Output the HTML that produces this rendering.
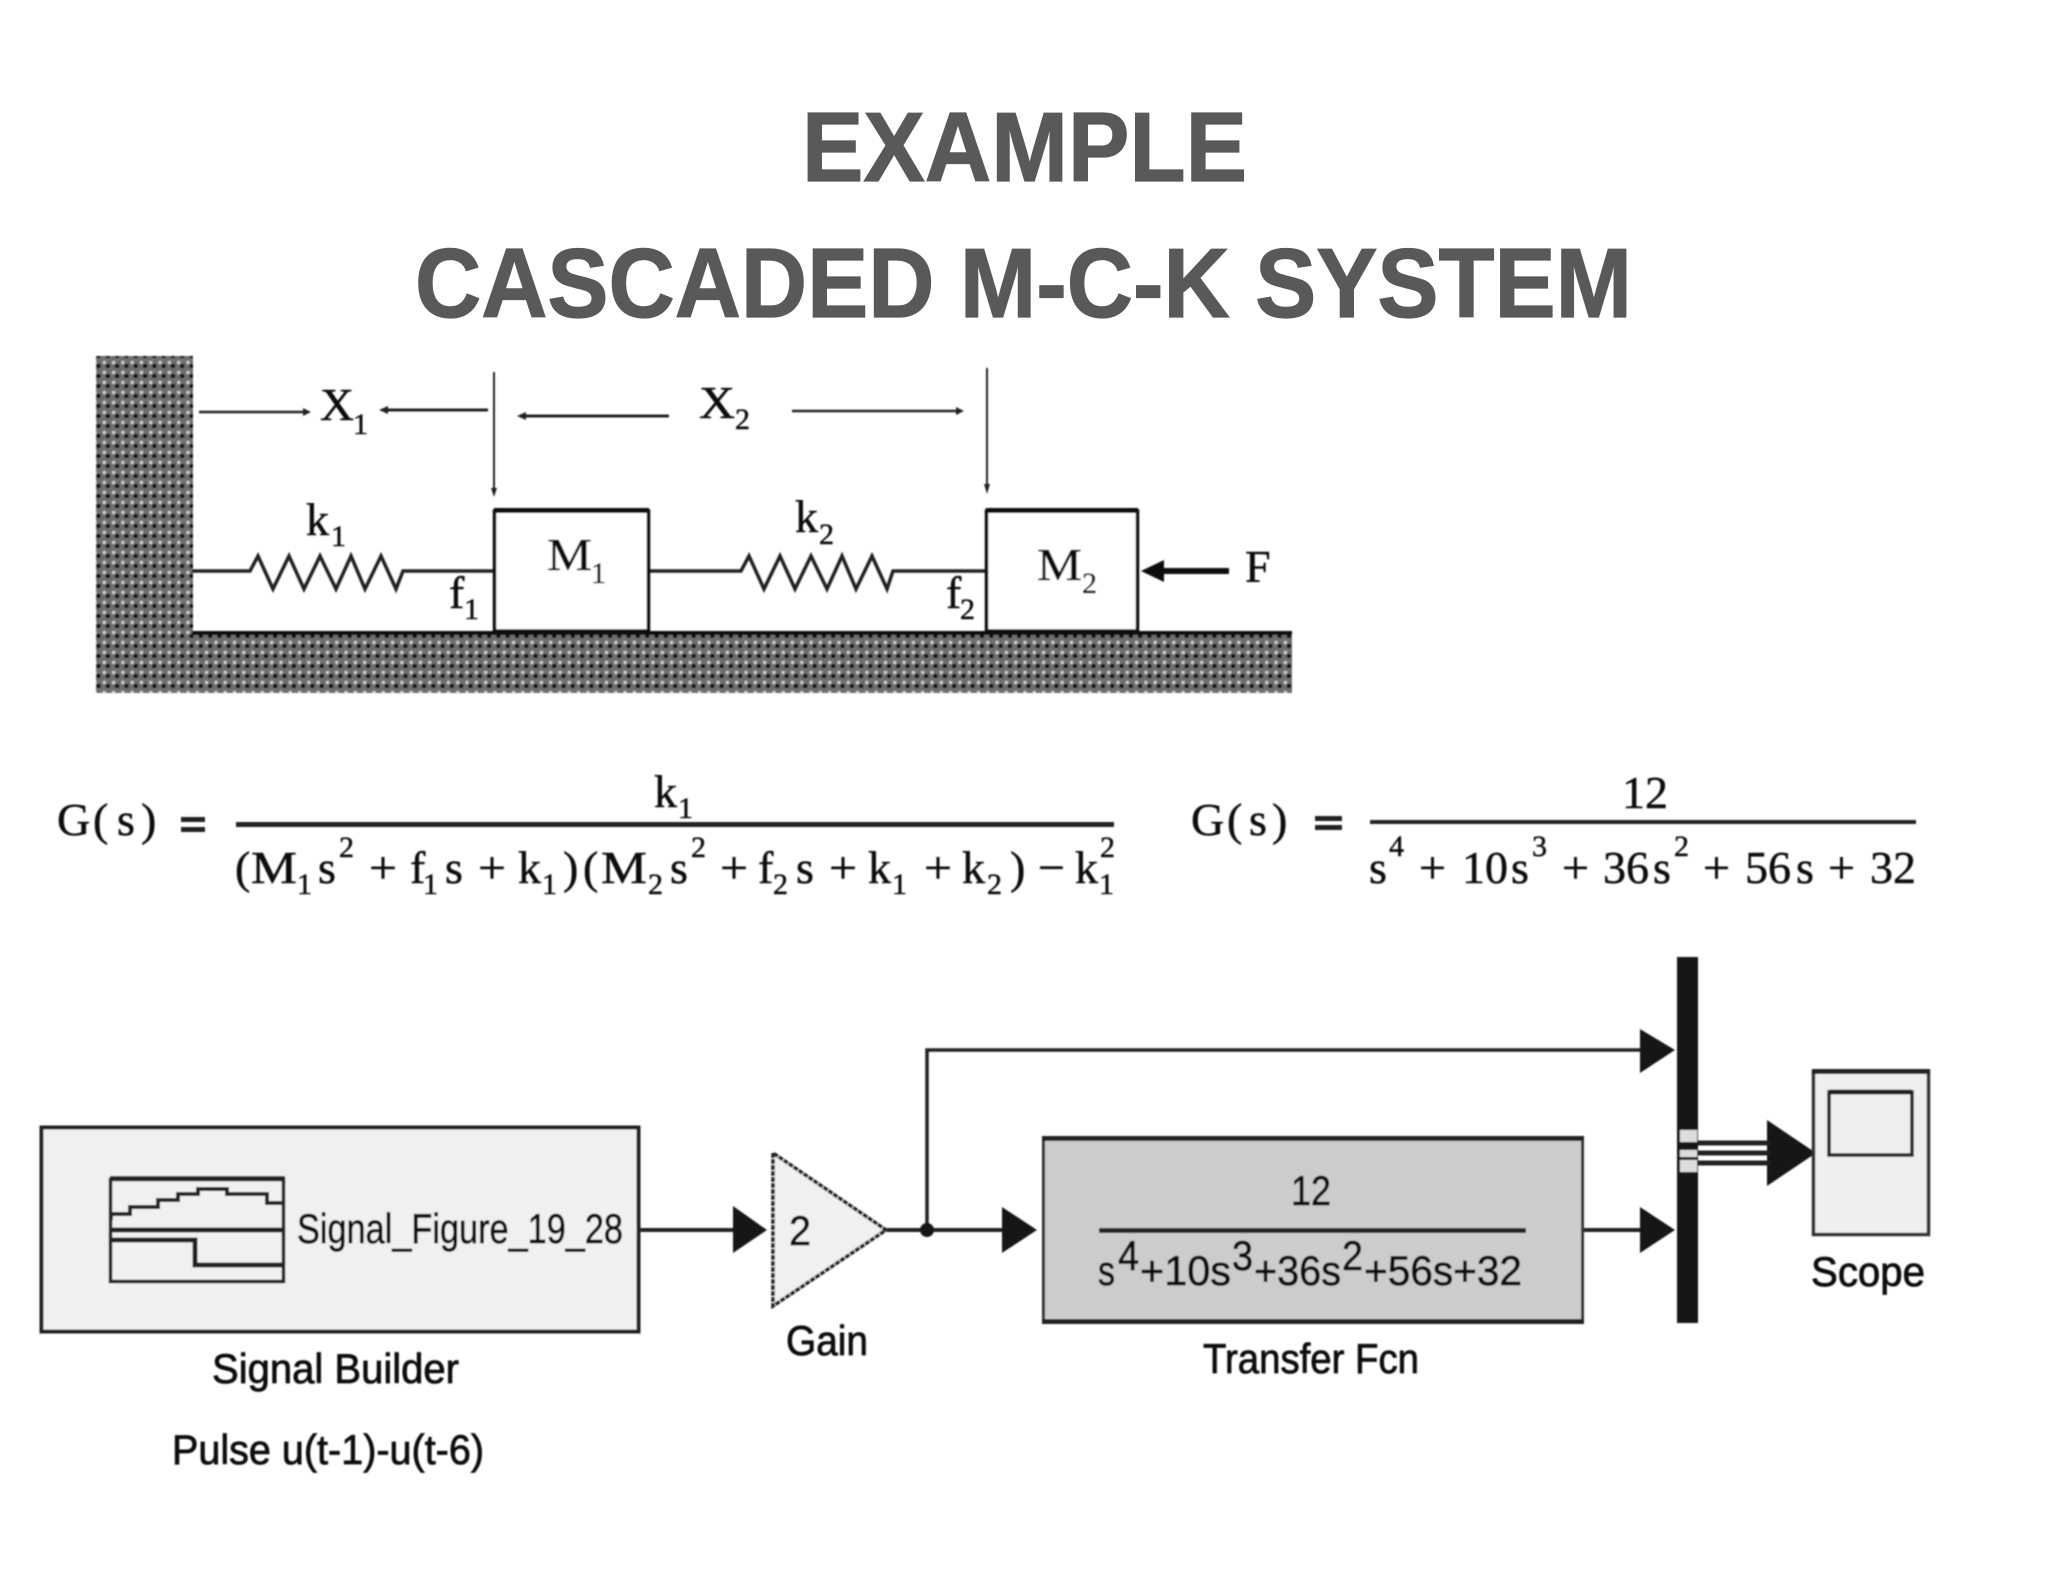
<!DOCTYPE html>
<html><head><meta charset="utf-8"><style>
html,body{margin:0;padding:0;background:#fff;}
svg{display:block;}
.t{font-family:"Liberation Serif",serif;fill:#111;stroke:#111;stroke-width:.5px;font-size:46px;}
.u{font-family:"Liberation Serif",serif;fill:#111;stroke:#111;stroke-width:.5px;font-size:30px;}
.h{font-family:"Liberation Sans",sans-serif;font-weight:700;fill:#595959;stroke:#595959;stroke-width:1.2px;font-size:98px;}
.a{font-family:"Liberation Sans",sans-serif;fill:#111;stroke:#111;stroke-width:.8px;font-size:42px;}
</style></head><body>
<svg xmlns="http://www.w3.org/2000/svg" width="2048" height="1582" viewBox="0 0 2048 1582">
<defs>
<pattern id="hatch" width="9.3" height="10" patternUnits="userSpaceOnUse">
<rect width="9.3" height="10" fill="#6e6e6e"/>
<rect x="3.5" y="4" width="4" height="4" fill="#0c0c0c"/>
<rect x="0.5" y="1" width="3" height="3" fill="#d0d0d0"/>
</pattern>
<filter id="b" x="-2%" y="-2%" width="104%" height="104%"><feGaussianBlur stdDeviation="0.7"/></filter>
</defs>
<rect width="2048" height="1582" fill="#fff"/>

<text class="h" x="802" y="181" textLength="445" lengthAdjust="spacingAndGlyphs">EXAMPLE</text>
<text class="h" x="415" y="317" textLength="1217" lengthAdjust="spacingAndGlyphs">CASCADED M-C-K SYSTEM</text>

<g filter="url(#b)">
<!-- mechanical -->
<rect x="96" y="356" width="97" height="337" fill="url(#hatch)"/>
<rect x="96" y="634" width="1196" height="59" fill="url(#hatch)"/>
<rect x="192" y="631" width="1100" height="4" fill="#111"/>
<g fill="none" stroke="#222" stroke-width="3.5">
<path d="M192 571H250L258 556L273 589L289 556L304 589L320 556L336 589L351 556L365 589L381 556L396 589L403 571H494"/>
<path d="M649 571H741L749 556L764 589L780 556L795 589L811 556L827 589L842 556L856 589L872 556L887 589L893 571H986"/>
</g>
<rect x="494.5" y="511" width="154" height="120" fill="#fff" stroke="#111" stroke-width="3.5"/>
<rect x="494" y="508" width="155" height="5" fill="#111"/>
<rect x="986.5" y="511" width="151" height="120" fill="#fff" stroke="#111" stroke-width="3.5"/>
<rect x="986" y="508" width="152" height="5" fill="#111"/>
<g stroke="#222" fill="none">
<path d="M494 372V490" stroke-width="2"/><path d="M987 368V487" stroke-width="2"/>
<path d="M199 412H305" stroke-width="2.5"/><path d="M385 410H488" stroke-width="3"/>
<path d="M524 416H669" stroke-width="3"/><path d="M792 411H958" stroke-width="2.5"/>
<path d="M1160 571H1229" stroke-width="6" stroke="#111"/>
</g>
<g fill="#222">
<path d="M491 488H497L494 497Z"/><path d="M984 484H990L987 494Z"/>
<path d="M303 408L311 412L303 416Z"/><path d="M388 406L379 410L388 414Z"/>
<path d="M526 412L517 416L526 420Z"/><path d="M956 407L964 411L956 415Z"/>
<path d="M1141 571L1164 560V582Z" fill="#111"/>
</g>
<text class="t" x="320" y="420" font-size="50" textLength="34" lengthAdjust="spacingAndGlyphs">X</text><text class="u" x="353" y="434">1</text>
<text class="t" x="699" y="418" textLength="36" lengthAdjust="spacingAndGlyphs">X</text><text class="u" x="735" y="429">2</text>
<text class="t" x="306" y="535">k</text><text class="u" x="331" y="546">1</text>
<text class="t" x="795" y="532">k</text><text class="u" x="819" y="544">2</text>
<text class="t" x="547" y="570" textLength="45" lengthAdjust="spacingAndGlyphs">M</text><text class="u" x="591" y="583">1</text>
<text class="t" x="1037" y="580" textLength="45" lengthAdjust="spacingAndGlyphs">M</text><text class="u" x="1082" y="593">2</text>
<text class="t" x="449" y="608">f</text><text class="u" x="464" y="619">1</text>
<text class="t" x="946" y="608">f</text><text class="u" x="960" y="619">2</text>
<text class="t" x="1245" y="582">F</text>

<!-- equation 1 -->
<text class="t" x="57" y="835">G</text><text class="t" x="93" y="835">(</text><text class="t" x="117" y="835">s</text><text class="t" x="141" y="835">)</text>
<rect x="181" y="817" width="24" height="5" fill="#222"/><rect x="181" y="827" width="24" height="5" fill="#222"/>
<rect x="236" y="822" width="878" height="5" fill="#222"/>
<text class="t" x="654" y="807">k</text><text class="u" x="678" y="818">1</text>
<g>
<text class="t" x="235" y="883">(</text><text class="t" x="251" y="883" textLength="46" lengthAdjust="spacingAndGlyphs">M</text><text class="u" x="297" y="894">1</text><text class="t" x="318" y="883">s</text><text class="u" x="339" y="857">2</text><text class="t" x="369" y="883" textLength="28" lengthAdjust="spacingAndGlyphs">+</text><text class="t" x="410" y="883">f</text><text class="u" x="423" y="894">1</text><text class="t" x="445" y="883">s</text><text class="t" x="478" y="883" textLength="28" lengthAdjust="spacingAndGlyphs">+</text><text class="t" x="518" y="883">k</text><text class="u" x="542" y="894">1</text><text class="t" x="563" y="883">)</text><text class="t" x="583" y="883">(</text><text class="t" x="601" y="883" textLength="46" lengthAdjust="spacingAndGlyphs">M</text><text class="u" x="648" y="894">2</text><text class="t" x="670" y="883">s</text><text class="u" x="691" y="857">2</text><text class="t" x="720" y="883" textLength="28" lengthAdjust="spacingAndGlyphs">+</text><text class="t" x="758" y="883">f</text><text class="u" x="773" y="894">2</text><text class="t" x="796" y="883">s</text><text class="t" x="829" y="883" textLength="28" lengthAdjust="spacingAndGlyphs">+</text><text class="t" x="868" y="883">k</text><text class="u" x="892" y="894">1</text><text class="t" x="924" y="883" textLength="28" lengthAdjust="spacingAndGlyphs">+</text><text class="t" x="962" y="883">k</text><text class="u" x="987" y="894">2</text><text class="t" x="1010" y="883">)</text><text class="t" x="1038" y="883" textLength="27" lengthAdjust="spacingAndGlyphs">−</text><text class="t" x="1075" y="883">k</text><text class="u" x="1099" y="894">1</text><text class="u" x="1100" y="857">2</text>
</g>

<!-- equation 2 -->
<text class="t" x="1191" y="835">G</text><text class="t" x="1227" y="835">(</text><text class="t" x="1249" y="835">s</text><text class="t" x="1272" y="835">)</text>
<rect x="1315" y="816" width="27" height="5" fill="#222"/><rect x="1315" y="825" width="27" height="5" fill="#222"/>
<rect x="1370" y="820" width="546" height="4" fill="#222"/>
<text class="t" x="1622" y="808">12</text>
<g>
<text class="t" x="1369" y="883">s</text><text class="u" x="1389" y="856">4</text><text class="t" x="1419" y="883" textLength="27" lengthAdjust="spacingAndGlyphs">+</text><text class="t" x="1462" y="883">10</text><text class="t" x="1511" y="883">s</text><text class="u" x="1532" y="856">3</text><text class="t" x="1562" y="883" textLength="27" lengthAdjust="spacingAndGlyphs">+</text><text class="t" x="1603" y="883">36</text><text class="t" x="1653" y="883">s</text><text class="u" x="1674" y="856">2</text><text class="t" x="1703" y="883" textLength="27" lengthAdjust="spacingAndGlyphs">+</text><text class="t" x="1745" y="883">56</text><text class="t" x="1796" y="883">s</text><text class="t" x="1828" y="883" textLength="27" lengthAdjust="spacingAndGlyphs">+</text><text class="t" x="1870" y="883">32</text>
</g>

<!-- simulink -->
<rect x="41.5" y="1127.5" width="597" height="204" fill="#f0f0f0" stroke="#222" stroke-width="4"/>
<rect x="110.5" y="1179.5" width="173" height="102" fill="#f0f0f0" stroke="#222" stroke-width="3.5"/>
<path d="M110 1176H285V1181H110Z" fill="#222"/>
<g fill="none" stroke="#222" stroke-width="4">
<path d="M111 1220V1214H130V1207H158V1200H178V1194H198V1189H227V1194H267V1203H284"/>
<path d="M110 1230H284" stroke-width="5"/>
<path d="M110 1240H195V1265H284" stroke-width="5"/>
<path d="M639 1230H735"/>
<path d="M887 1230H1005"/>
<path d="M1583 1230H1645"/>
<path d="M1645 1050H927V1230" stroke-width="3.5"/>
</g>
<text class="a" x="297" y="1243" textLength="326" lengthAdjust="spacingAndGlyphs">Signal_Figure_19_28</text>
<path d="M773 1153V1306L886 1230Z" fill="#f0f0f0" stroke="#222" stroke-width="3.5" stroke-dasharray="5 1"/>
<text class="a" x="789" y="1245" textLength="22" lengthAdjust="spacingAndGlyphs">2</text>
<text class="a" x="786" y="1355" textLength="82" lengthAdjust="spacingAndGlyphs">Gain</text>
<text class="a" x="212" y="1383" textLength="247" lengthAdjust="spacingAndGlyphs">Signal Builder</text>
<text class="a" x="172" y="1464" textLength="312" lengthAdjust="spacingAndGlyphs">Pulse u(t-1)-u(t-6)</text>
<g fill="#151515">
<path d="M733 1206L767 1230L733 1253Z"/>
<path d="M1002 1207L1037 1230L1002 1253Z"/>
<path d="M1640 1207L1675 1230L1640 1253Z"/>
<path d="M1640 1029L1675 1050L1640 1073Z"/>
<circle cx="927" cy="1230" r="7"/>
<rect x="1677" y="957" width="21" height="366"/>
<path d="M1767 1120L1816 1153L1767 1186Z"/>
</g>
<rect x="1043.5" y="1138.5" width="539" height="184" fill="#ccc" stroke="#333" stroke-width="3"/>
<rect x="1042" y="1136" width="542" height="5" fill="#222"/><rect x="1042" y="1319" width="542" height="5" fill="#222"/>
<text class="a" x="1291" y="1205" textLength="40" lengthAdjust="spacingAndGlyphs">12</text>
<rect x="1099" y="1228" width="427" height="5" fill="#222"/>
<text class="a" x="1098" y="1285" textLength="17" lengthAdjust="spacingAndGlyphs">s</text>
<text class="a" x="1118" y="1270" textLength="21" lengthAdjust="spacingAndGlyphs">4</text>
<text class="a" x="1140" y="1285" textLength="91" lengthAdjust="spacingAndGlyphs">+10s</text>
<text class="a" x="1232" y="1270" textLength="21" lengthAdjust="spacingAndGlyphs">3</text>
<text class="a" x="1254" y="1285" textLength="87" lengthAdjust="spacingAndGlyphs">+36s</text>
<text class="a" x="1342" y="1270" textLength="21" lengthAdjust="spacingAndGlyphs">2</text>
<text class="a" x="1364" y="1285" textLength="158" lengthAdjust="spacingAndGlyphs">+56s+32</text>
<text class="a" x="1203" y="1373" textLength="216" lengthAdjust="spacingAndGlyphs">Transfer Fcn</text>
<g fill="#ddd"><rect x="1680" y="1130" width="17" height="12"/><rect x="1680" y="1150" width="17" height="7"/><rect x="1680" y="1160" width="17" height="12"/></g>
<g stroke="#222" stroke-width="5"><path d="M1698 1143H1770"/><path d="M1698 1153H1770"/><path d="M1698 1163H1770"/></g>
<rect x="1813.5" y="1071.5" width="115" height="163" fill="#efefef" stroke="#333" stroke-width="3.5"/>
<rect x="1812" y="1069" width="118" height="5" fill="#222"/>
<rect x="1829" y="1092" width="83" height="63" fill="#efefef" stroke="#222" stroke-width="3.5"/>
<path d="M1829 1092H1912" stroke="#222" stroke-width="5"/>
<text class="a" x="1811" y="1286" textLength="114" lengthAdjust="spacingAndGlyphs">Scope</text>
</g>
</svg>
</body></html>
